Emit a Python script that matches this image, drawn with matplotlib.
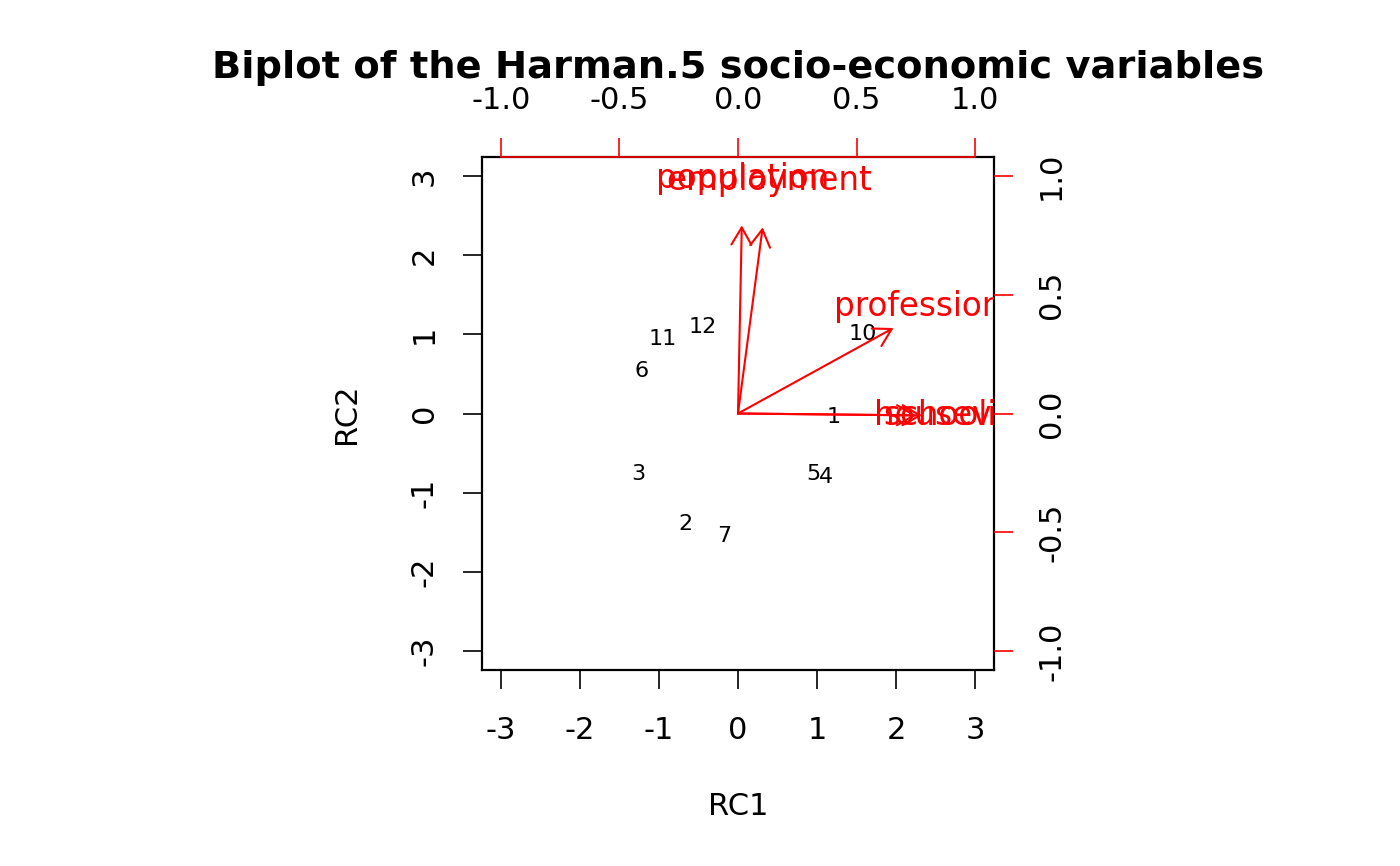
import matplotlib
matplotlib.use("Agg")
import matplotlib.pyplot as plt

plt.rcParams['font.family'] = ['DejaVu Sans']
plt.rcParams['axes.unicode_minus'] = False

# observation scores (RC1, RC2)
obs_labels = ["1", "2", "3", "4", "5", "6", "7", "10", "11", "12"]
rc1_scores = [1.21, -0.67, -1.26, 1.12, 0.95, -1.22, -0.17, 1.58, -0.95, -0.45]
rc2_scores = [-0.05, -1.39, -0.77, -0.80, -0.77, 0.54, -1.55, 1.00, 0.94, 1.09]

# variable loadings
var_labels = ["population", "schooling", "employment", "professional", "housevalue"]
rc1_load = [0.02, 0.94, 0.13, 0.82, 0.97]
rc2_load = [0.99, -0.01, 0.98, 0.45, -0.01]

score_ticks = [-3, -2, -1, 0, 1, 2, 3]
load_ticks = [-1.0, -0.5, 0.0, 0.5, 1.0]

title = "Biplot of the Harman.5 socio-economic variables"

W, H = 1400, 866
fig = plt.figure(figsize=(14, 8.66), dpi=100)
pos = [482 / W, 1 - 670 / H, (994 - 482) / W, (670 - 157) / H]
ax = fig.add_axes(pos)
lim = 3.24
ax.set_xlim(-lim, lim)
ax.set_ylim(-lim, lim)
for s in ax.spines.values():
    s.set_linewidth(1.6)

tick_fs = 22
ax.set_xticks(score_ticks)
ax.set_yticks(score_ticks)
ax.set_xticklabels([str(t) for t in score_ticks])
ax.set_yticklabels([str(t) for t in score_ticks], rotation=90, va='center')
ax.tick_params(axis='both', direction='out', length=14, width=1.2,
               labelsize=tick_fs)
ax.tick_params(axis='x', pad=19)
ax.tick_params(axis='y', pad=17)

for lab, x, y in zip(obs_labels, rc1_scores, rc2_scores):
    ax.text(x, y, lab, ha='center', va='center', fontsize=16, color='black')

ax.set_xlabel("RC1", fontsize=tick_fs, labelpad=34)
ax.set_ylabel("RC2", fontsize=tick_fs, labelpad=35)

# loadings axes
ax2 = fig.add_axes(pos, frameon=False)
l2 = lim / 3
ax2.set_xlim(-l2, l2)
ax2.set_ylim(-l2, l2)
ax2.xaxis.set_ticks_position('top')
ax2.yaxis.set_ticks_position('right')
ax2.set_xticks(load_ticks)
ax2.set_yticks(load_ticks)
ax2.set_xticklabels([f"{t:.1f}" for t in load_ticks])
ax2.set_yticklabels([f"{t:.1f}" for t in load_ticks], rotation=90, va='center')
ax2.tick_params(axis='both', direction='out', length=14, width=1.2,
                color='red', labelcolor='black', labelsize=tick_fs)
ax2.tick_params(axis='x', pad=16)
ax2.tick_params(axis='y', pad=17)
ax2.plot([load_ticks[0], load_ticks[-1]], [l2, l2], color='red', lw=1.2, clip_on=False)

for lab, x, y in zip(var_labels, rc1_load, rc2_load):
    ax2.annotate("", xy=(0.8 * x, 0.8 * y), xytext=(0, 0),
                 arrowprops=dict(arrowstyle='->,head_length=0.62,head_width=0.36',
                                 color='red', lw=1.5, shrinkA=0, shrinkB=0,
                                 mutation_scale=20))
    ax2.text(x, y, lab, ha='center', va='center', fontsize=23.5, color='red',
             clip_on=True)

fig.text((482 + 994) / 2 / W, 1 - 68 / H, title, ha='center', va='center',
         fontsize=27.6, fontweight='bold')

fig.savefig("out.png", dpi=100)
